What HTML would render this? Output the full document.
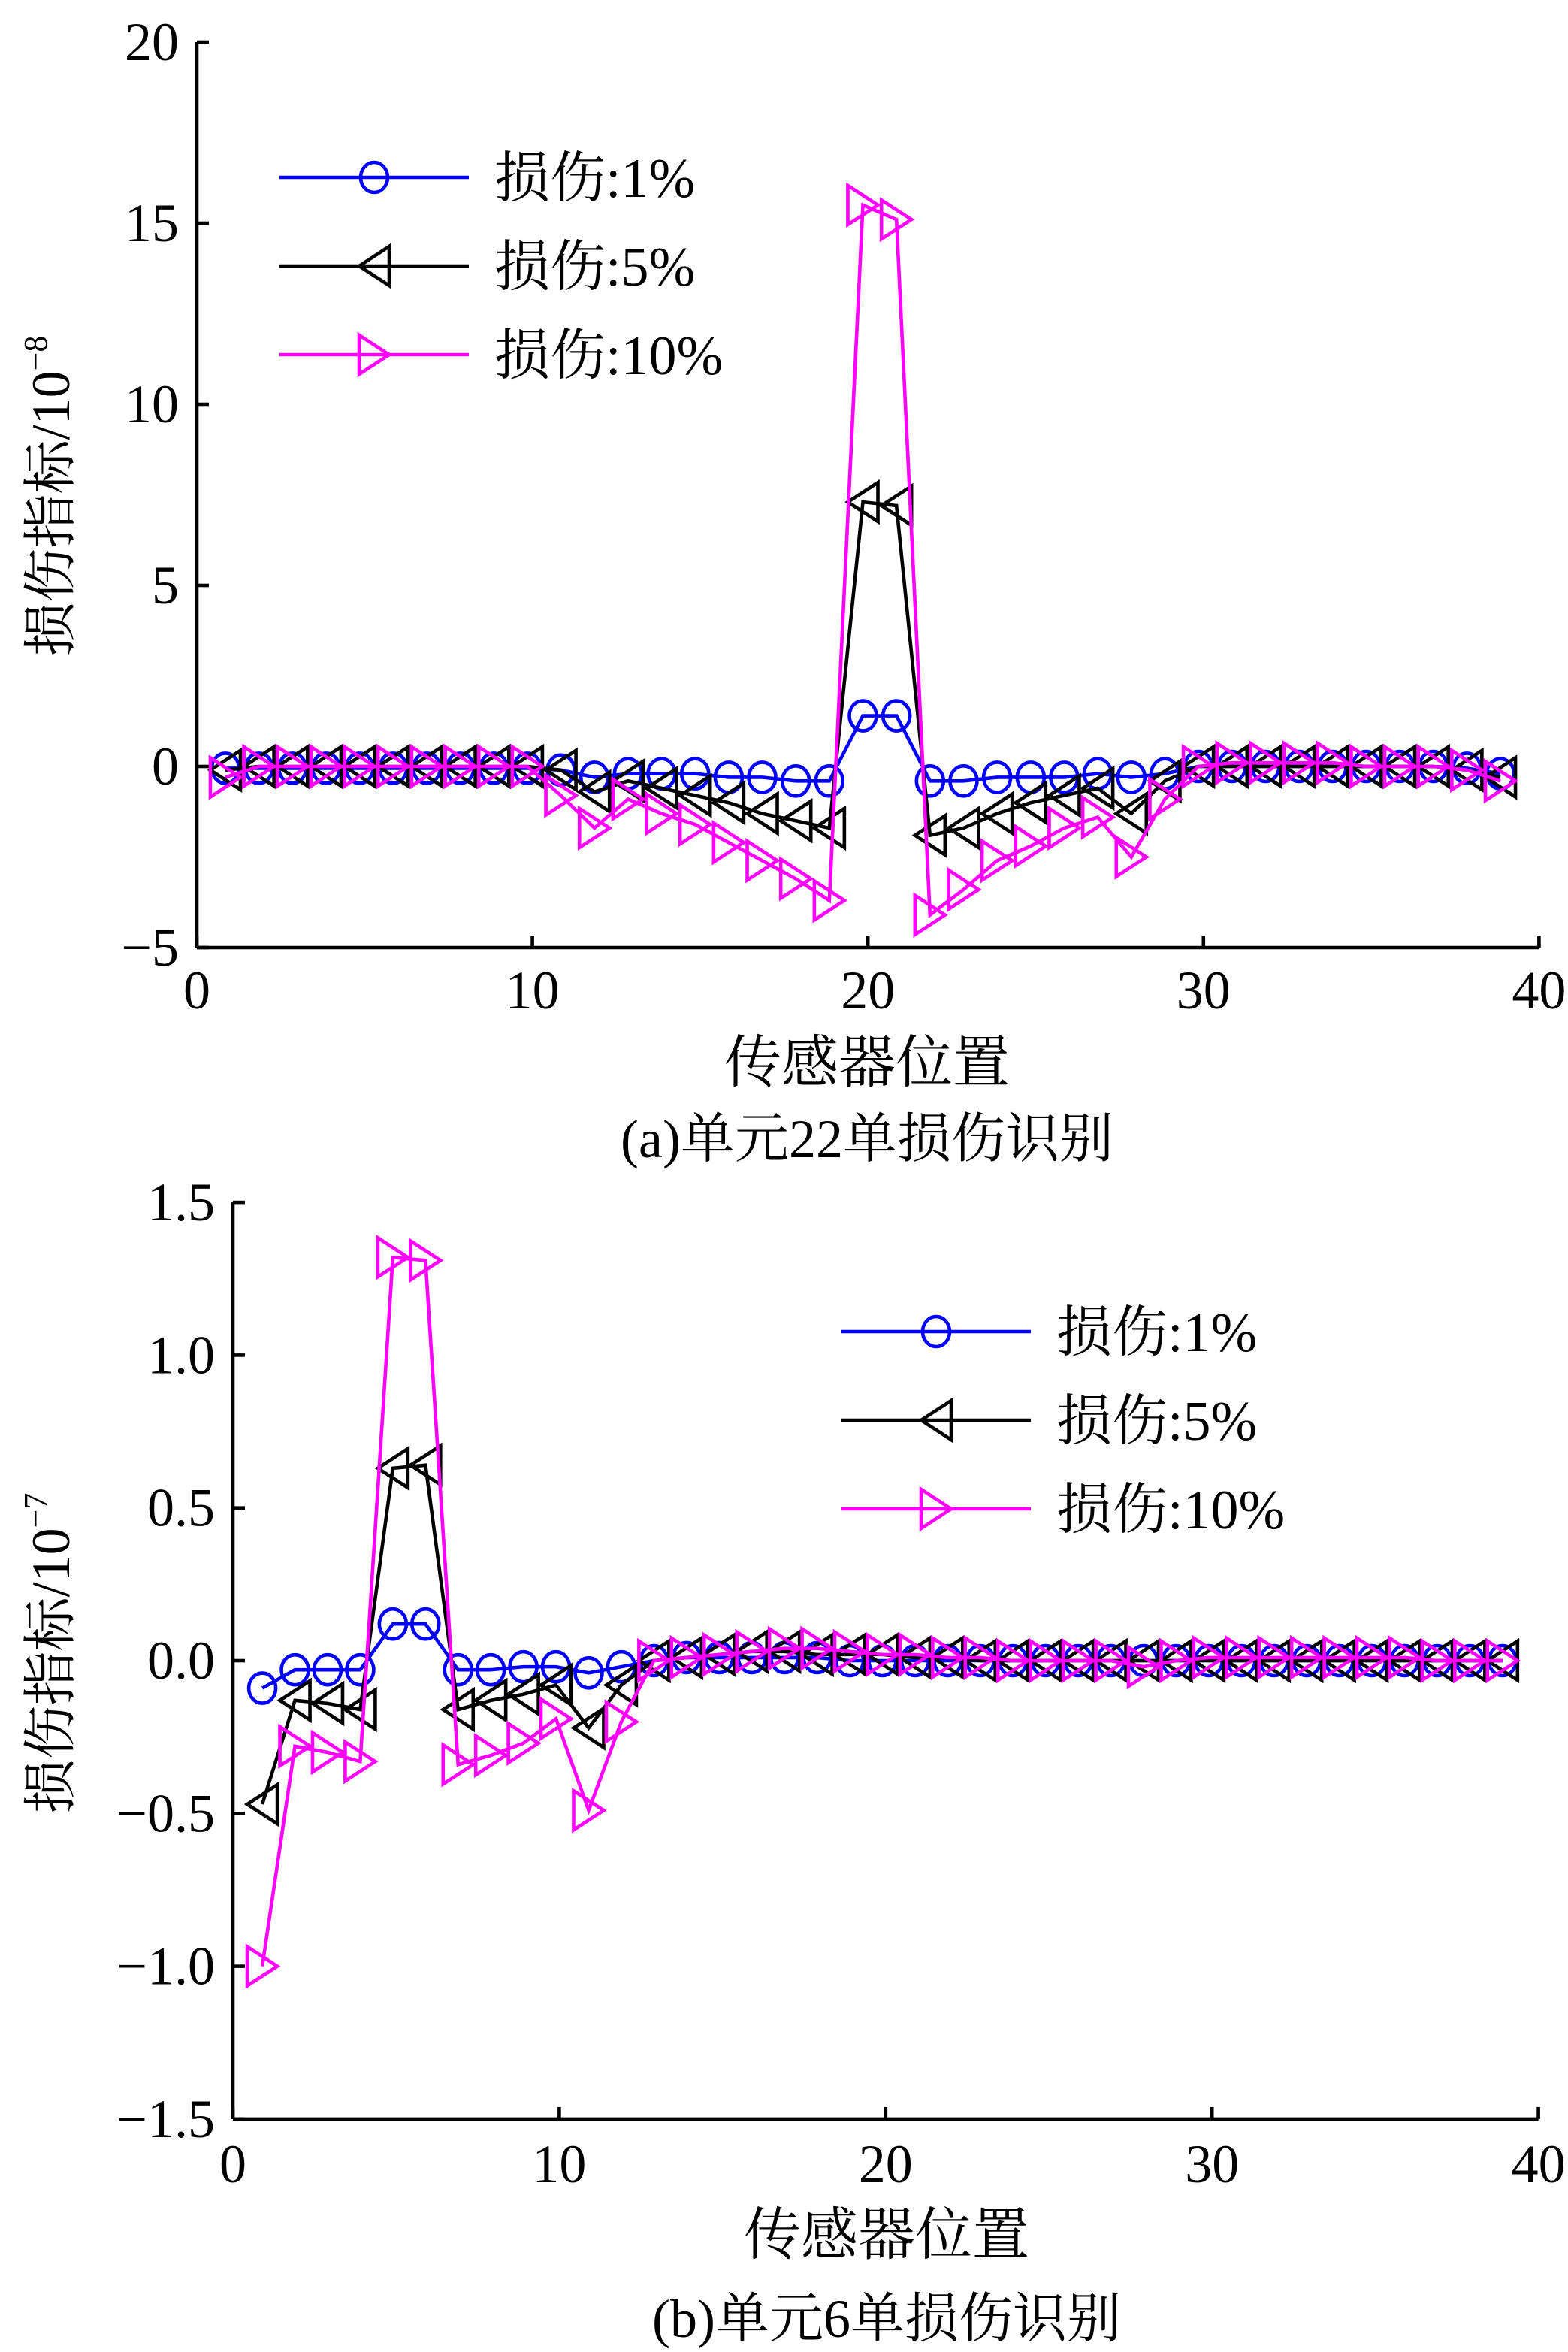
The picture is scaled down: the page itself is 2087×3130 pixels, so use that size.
<!DOCTYPE html>
<html><head><meta charset="utf-8">
<style>html,body{margin:0;padding:0;background:#fff}svg{display:block}
svg text,svg tspan{font-family:"Liberation Serif","Noto Serif CJK SC",serif}</style>
</head><body>
<svg id="s" width="2087" height="3130" viewBox="0 0 1043.5 1565" xmlns="http://www.w3.org/2000/svg">
<g id="g"></g>
</svg>
<script>
const NS="http://www.w3.org/2000/svg",G=document.getElementById('g');
function el(t,a,txt){const e=document.createElementNS(NS,t);for(const k in a)e.setAttribute(k,a[k]);if(txt!==undefined)e.textContent=txt;G.appendChild(e);return e;}
function marker(type,x,y,c){
 if(type==='o')el('ellipse',{cx:x,cy:y,rx:9,ry:10,fill:'none',stroke:c,'stroke-width':2.3});
 else if(type==='<')el('polygon',{points:`${x-10},${y} ${x+10},${y-13} ${x+10},${y+13}`,fill:'none',stroke:c,'stroke-width':2.3});
 else el('polygon',{points:`${x+10},${y} ${x-10},${y-13} ${x-10},${y+13}`,fill:'none',stroke:c,'stroke-width':2.3});
}
function plot(cfg){
 const X=v=>cfg.x0+v*cfg.xs, Y=v=>cfg.y0-v*cfg.ys;
 el('line',{x1:cfg.x0,y1:Y(cfg.ymax),x2:cfg.x0,y2:Y(cfg.ymin),stroke:'#000','stroke-width':2.3});
 el('line',{x1:cfg.x0,y1:Y(cfg.ymin),x2:X(40),y2:Y(cfg.ymin),stroke:'#000','stroke-width':2.3});
 for(const t of [0,10,20,30,40]){
  el('line',{x1:X(t),y1:Y(cfg.ymin),x2:X(t),y2:Y(cfg.ymin)-8,stroke:'#000','stroke-width':2.3});
  el('text',{x:X(t),y:cfg.xtl,'font-size':36,'text-anchor':'middle'},String(t));
 }
 for(const t of cfg.yt){
  el('line',{x1:cfg.x0,y1:Y(t[0]),x2:cfg.x0+8,y2:Y(t[0]),stroke:'#000','stroke-width':2.3});
  el('text',{x:cfg.x0-12,y:Y(t[0])+12,'font-size':36,'text-anchor':'end'},t[1]);
 }
 const cols=['#0000ff','#000000','#ff00ff'],mk=['o','<','>'];
 cfg.data.forEach((d,k)=>{
  const pts=d.map((v,i)=>[X(i+1+cfg.off),Y(v)]);
  el('polyline',{points:pts.map(p=>p.join(',')).join(' '),fill:'none',stroke:cols[k],'stroke-width':2.3});
  pts.forEach(p=>marker(mk[k],p[0],p[1],cols[k]));
 });
 const labs=['损伤:1%','损伤:5%','损伤:10%'];
 labs.forEach((l,k)=>{
  const y=cfg.ly+k*59;
  el('line',{x1:cfg.lx,y1:y,x2:cfg.lx+126,y2:y,stroke:cols[k],'stroke-width':2.3});
  marker(mk[k],cfg.lx+63,y,cols[k]);
  el('text',{x:cfg.lx+143,y:y+13,'font-size':37},l);
 });
 const t=el('text',{transform:`translate(${cfg.ylx},${cfg.ylc}) rotate(-90)`,'font-size':36,'text-anchor':'middle'});
 t.innerHTML=`损伤指标/10<tspan font-size="22" dy="-15">−${cfg.exp}</tspan>`;
 el('text',{x:cfg.tx,y:cfg.tty,'font-size':38,'text-anchor':'middle'},'传感器位置');
 el('text',{x:cfg.tx,y:cfg.cy,'font-size':36,'text-anchor':'middle'},cfg.cap);
}
plot({x0:131,xs:22.33,y0:510,ys:24.1,ymin:-5,ymax:20,off:-0.15,xtl:671,
 yt:[[20,'20'],[15,'15'],[10,'10'],[5,'5'],[0,'0'],[-5,'−5']],
 data:[
 [-0.05,-0.05,-0.05,-0.05,-0.05,-0.05,-0.05,-0.05,-0.05,-0.05,-0.1,-0.3,-0.2,-0.2,-0.2,-0.3,-0.3,-0.4,-0.4,1.4,1.4,-0.4,-0.4,-0.3,-0.3,-0.3,-0.2,-0.3,-0.2,0,0,0,0,0,0,0,0,-0.05,-0.2],
 [-0.1,0,0,0,0,0,0,0,0,0,-0.1,-0.7,-0.4,-0.6,-0.8,-1.0,-1.3,-1.5,-1.7,7.3,7.2,-1.9,-1.7,-1.3,-1.0,-0.8,-0.6,-1.3,-0.4,0,0,0,0,0,0,0,0,-0.1,-0.3],
 [-0.3,0,0,0,0,0,0,0,0,0,-0.8,-1.7,-0.9,-1.3,-1.6,-2.1,-2.6,-3.1,-3.7,15.5,15.1,-4.1,-3.4,-2.6,-2.2,-1.7,-1.4,-2.5,-0.9,0,0.1,0.1,0.1,0.1,0,0,0,-0.1,-0.4]],
 lx:186,ly:118,ylx:46,ylc:330,exp:8,tx:577,tty:720,cy:770,cap:'(a)单元22单损伤识别'});
plot({x0:155,xs:21.72,y0:1105,ys:203.3,ymin:-1.5,ymax:1.5,off:-0.1,xtl:1452,
 yt:[[1.5,'1.5'],[1,'1.0'],[0.5,'0.5'],[0,'0.0'],[-0.5,'−0.5'],[-1,'−1.0'],[-1.5,'−1.5']],
 data:[
 [-0.09,-0.03,-0.03,-0.03,0.12,0.12,-0.03,-0.03,-0.02,-0.02,-0.04,-0.02,0,0.01,0.01,0.01,0.01,0.01,0,0,0,0,0,0,0,0,0,0,0,0,0,0,0,0,0,0,0,0,0],
 [-0.47,-0.13,-0.14,-0.16,0.63,0.64,-0.16,-0.13,-0.11,-0.08,-0.22,-0.08,0,0.01,0.02,0.03,0.03,0.02,0.02,0.02,0.01,0.01,0,0,0,0,0,0,0,0,0,0,0,0,0,0,0,0,0],
 [-1.0,-0.28,-0.3,-0.33,1.32,1.31,-0.34,-0.31,-0.27,-0.19,-0.49,-0.2,0,0.01,0.02,0.03,0.04,0.04,0.03,0.02,0.02,0.01,0.01,0,0,0,0,-0.02,0,0.01,0.01,0.01,0.01,0.01,0.01,0.01,0,0,0]],
 lx:560,ly:886,ylx:46,ylc:1100,exp:7,tx:590,tty:1500,cy:1555,cap:'(b)单元6单损伤识别'});
</script>
</body></html>
